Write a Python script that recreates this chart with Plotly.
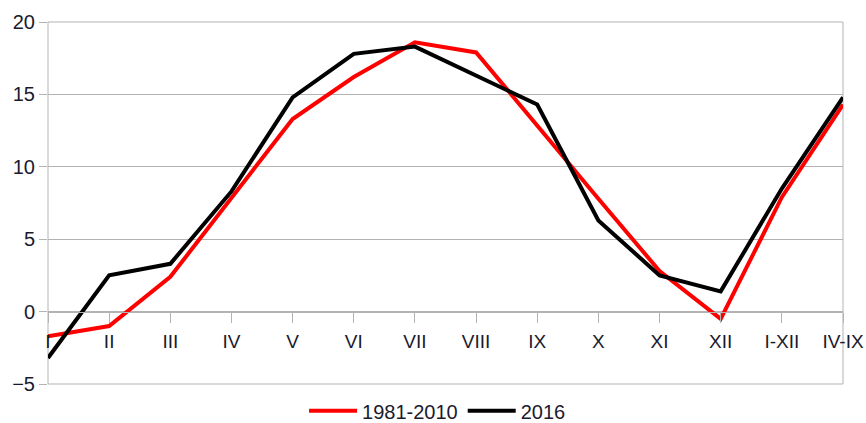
import plotly.graph_objects as go

categories = ["I", "II", "III", "IV", "V", "VI", "VII", "VIII", "IX", "X", "XI", "XII", "I-XII", "IV-IX"]
normal_1981_2010 = [-1.7, -1.0, 2.4, 7.9, 13.3, 16.2, 18.6, 17.9, 12.8, 7.8, 2.8, -0.5, 7.9, 14.3]
year_2016 = [-3.2, 2.5, 3.3, 8.3, 14.8, 17.8, 18.3, 16.3, 14.3, 6.3, 2.5, 1.4, 8.5, 14.8]
y_ticks = [-5, 0, 5, 10, 15, 20]

GRID = "#b3b3b3"
FONT = "Liberation Sans, Arial, sans-serif"

fig = go.Figure()
fig.add_trace(go.Scatter(x=categories, y=normal_1981_2010, mode="lines", name="1981-2010",
                         line=dict(color="#ff0000", width=4)))
fig.add_trace(go.Scatter(x=categories, y=year_2016, mode="lines", name="2016",
                         line=dict(color="#000000", width=4)))

fig.update_layout(
    template="none",
    width=866, height=423,
    margin=dict(l=48, r=23, t=21.5, b=39, autoexpand=False),
    paper_bgcolor="white", plot_bgcolor="white",
    font=dict(family=FONT, size=18, color="#1a1a2e"),
    showlegend=True,
    legend=dict(orientation="h", x=0.49, xanchor="center", y=-0.074, yanchor="middle",
                font=dict(size=20), itemwidth=48, tracegroupgap=0, bgcolor="rgba(0,0,0,0)"),
    xaxis=dict(type="category", range=[0, len(categories) - 1],
               anchor="free", position=0.2, automargin=False,
               showline=True, linecolor=GRID, linewidth=1,
               ticks="outside", ticklen=10, tickcolor=GRID, tickwidth=1,
               ticklabelstandoff=3,
               showgrid=False, zeroline=False,
               tickfont=dict(size=19)),
    yaxis=dict(range=[-5, 20], tickvals=y_ticks, showgrid=True, gridcolor=GRID, gridwidth=1,
               zeroline=False, showline=False, automargin=False,
               ticks="outside", ticklen=8, tickcolor=GRID, tickwidth=1,
               tickfont=dict(size=20)),
    shapes=[dict(type="rect", xref="paper", yref="paper", x0=0, y0=0, x1=1, y1=1,
                 line=dict(color=GRID, width=1), layer="below")],
)

fig.write_html("out.html", config={"displayModeBar": False},
               post_script="document.body.style.margin='0';")
